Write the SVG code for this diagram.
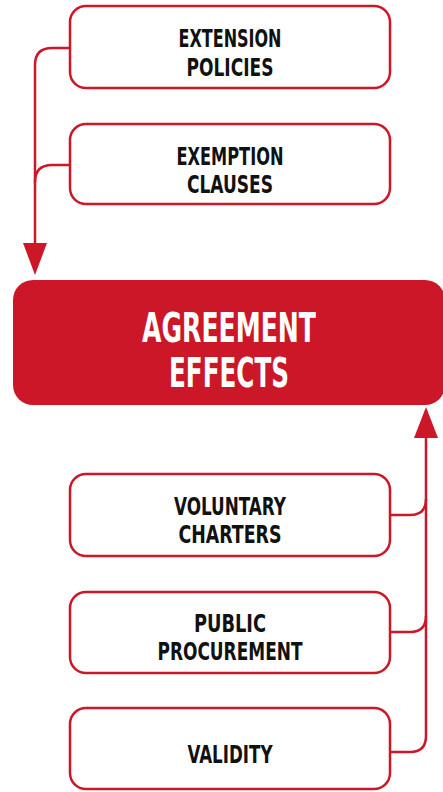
<svg xmlns="http://www.w3.org/2000/svg" width="443" height="792" viewBox="0 0 443 792">
<style>
.box{fill:#fff;stroke:#CC1728;stroke-width:2.5}
.t{font-family:"DejaVu Sans Condensed","DejaVu Sans",sans-serif;font-weight:bold;font-size:25px;fill:#111;text-anchor:middle}
.m{font-family:"DejaVu Sans Condensed","DejaVu Sans",sans-serif;font-weight:bold;font-size:41px;fill:#fff;text-anchor:middle}
.c{fill:none;stroke:#CC1728;stroke-width:2.5}
.a{fill:#CC1728}
</style>
<g id="connectors">
<path class="c" d="M70,48 H52 Q35,48 35,65 V245"/>
<path class="c" d="M70,165 H52 Q35,165 35,182"/>
<polygon class="a" points="23,243 47,243 35,275"/>
<path class="c" d="M426,436 V736 Q426,752 410,752 H390"/>
<path class="c" d="M390,515 H410 Q426,515 426,499"/>
<path class="c" d="M390,632 H410 Q426,632 426,616"/>
<polygon class="a" points="414,438 438,438 426,407"/>
</g>
<g id="extension">
<rect class="box" x="70" y="6" width="320" height="82" rx="16"/>
<text class="t" x="230" y="47" textLength="103" lengthAdjust="spacingAndGlyphs">EXTENSION</text>
<text class="t" x="230" y="76" textLength="87" lengthAdjust="spacingAndGlyphs">POLICIES</text>
</g>
<g id="exemption">
<rect class="box" x="70" y="124" width="320" height="80" rx="16"/>
<text class="t" x="230" y="165" textLength="107" lengthAdjust="spacingAndGlyphs">EXEMPTION</text>
<text class="t" x="230" y="193" textLength="86" lengthAdjust="spacingAndGlyphs">CLAUSES</text>
</g>
<g id="agreement">
<rect x="13" y="280" width="432" height="125" rx="20" fill="#CC1728"/>
<text class="m" x="229" y="342" textLength="174" lengthAdjust="spacingAndGlyphs">AGREEMENT</text>
<text class="m" x="229" y="387" textLength="120" lengthAdjust="spacingAndGlyphs">EFFECTS</text>
</g>
<g id="voluntary">
<rect class="box" x="70" y="474" width="320" height="82" rx="16"/>
<text class="t" x="230" y="515" textLength="112" lengthAdjust="spacingAndGlyphs">VOLUNTARY</text>
<text class="t" x="230" y="543" textLength="103" lengthAdjust="spacingAndGlyphs">CHARTERS</text>
</g>
<g id="public">
<rect class="box" x="70" y="592" width="320" height="81" rx="16"/>
<text class="t" x="230" y="632" textLength="72" lengthAdjust="spacingAndGlyphs">PUBLIC</text>
<text class="t" x="230" y="660" textLength="145" lengthAdjust="spacingAndGlyphs">PROCUREMENT</text>
</g>
<g id="validity">
<rect class="box" x="70" y="708" width="320" height="81" rx="16"/>
<text class="t" x="230" y="763" textLength="85" lengthAdjust="spacingAndGlyphs">VALIDITY</text>
</g>
</svg>
